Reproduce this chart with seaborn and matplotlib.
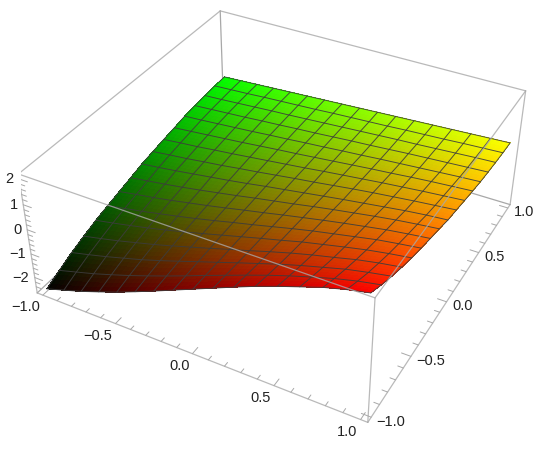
import numpy as np
import matplotlib
matplotlib.use('Agg')
import matplotlib.pyplot as plt
from mpl_toolkits.mplot3d import proj3d
import seaborn as sns

x_nodes = np.linspace(-1, 1, 17)
y_nodes = np.linspace(-1, 1, 17)

z_values = np.array([
    [-2.57,-2.33,-2.08,-1.80,-1.51,-1.19,-.86,-.52,-.18,.16,.50,.83,1.13,1.41,1.69,1.91,2.09],
    [-2.31,-2.09,-1.87,-1.62,-1.36,-1.08,-.79,-.49,-.18,.12,.42,.71,.98,1.23,1.47,1.67,1.83],
    [-2.06,-1.87,-1.67,-1.45,-1.23,-.98,-.72,-.45,-.19,.08,.34,.60,.84,1.06,1.28,1.45,1.60],
    [-1.86,-1.69,-1.51,-1.31,-1.11,-.89,-.66,-.43,-.19,.04,.28,.51,.72,.91,1.11,1.27,1.40],
    [-1.67,-1.52,-1.36,-1.19,-1.01,-.81,-.61,-.40,-.19,.02,.22,.43,.61,.79,.96,1.10,1.22],
    [-1.52,-1.38,-1.24,-1.08,-.92,-.75,-.57,-.38,-.20,-.01,.18,.36,.52,.68,.84,.96,1.07],
    [-1.38,-1.25,-1.13,-.99,-.84,-.69,-.53,-.36,-.20,-.03,.13,.29,.44,.58,.72,.83,.93],
    [-1.24,-1.13,-1.02,-.90,-.77,-.63,-.49,-.34,-.20,-.06,.09,.23,.36,.49,.61,.71,.80],
    [-1.09,-1.00,-.90,-.79,-.68,-.57,-.45,-.32,-.20,-.08,.04,.16,.27,.38,.49,.58,.65],
    [-.99,-.90,-.82,-.72,-.63,-.52,-.42,-.31,-.20,-.10,.01,.12,.22,.31,.40,.48,.56],
    [-.89,-.81,-.74,-.65,-.57,-.48,-.39,-.30,-.21,-.11,-.02,.07,.16,.24,.32,.39,.46],
    [-.80,-.73,-.66,-.59,-.52,-.44,-.36,-.29,-.21,-.13,-.05,.03,.10,.18,.25,.31,.37],
    [-.70,-.65,-.59,-.53,-.47,-.40,-.34,-.27,-.21,-.14,-.08,-.01,.05,.11,.17,.23,.28],
    [-.64,-.59,-.54,-.49,-.43,-.38,-.32,-.27,-.21,-.15,-.10,-.04,.02,.07,.12,.17,.22],
    [-.59,-.55,-.50,-.45,-.40,-.36,-.31,-.26,-.21,-.16,-.11,-.06,-.02,.03,.08,.13,.17],
    [-.55,-.51,-.47,-.42,-.38,-.34,-.30,-.25,-.21,-.17,-.13,-.08,-.04,0,.05,.09,.13],
    [-.53,-.49,-.45,-.41,-.37,-.33,-.29,-.25,-.21,-.17,-.13,-.09,-.05,-.01,.03,.07,.11],
])

major_xy = [-1, -.5, 0, .5, 1]
major_z = [-2, -1, 0, 1, 2]
x_labels = ['\u22121.0', '\u22120.5', '0.0', '0.5', '1.0']
y_labels = ['\u22121.0', '\u22120.5', '0.0', '0.5', '1.0']
z_labels = ['\u22122', '\u22121', '0', '1', '2']

sns.set_theme(style='white')
plt.rcParams['font.family'] = ['Liberation Sans', 'DejaVu Sans']

W, H = 550, 449
fig = plt.figure(figsize=(W/100, H/100), dpi=100)
size = 514
cx, cy = 277.7, 197.5
ax = fig.add_axes([(cx-size/2)/W, 1-(cy+size/2)/H, size/W, size/H], projection='3d', computed_zorder=False)
xlo, xhi, ylo, yhi, zlo, zhi = -1.04, 1.04, -1.04, 1.04, -2.67, 2.19
ax.set_xlim(xlo, xhi); ax.set_ylim(ylo, yhi); ax.set_zlim(zlo, zhi)
ax.set_box_aspect((1, 1, .4))
ax.view_init(elev=36.23, azim=-61.56)
ax.set_proj_type('persp', focal_length=.4383)
ax.set_axis_off()

# finer cells only for the smooth colour ramp
n = 4
xf = np.linspace(-1, 1, 16*n+1)
yf = np.linspace(-1, 1, 16*n+1)
Zx = np.array([np.interp(xf, x_nodes, row) for row in z_values])
Zf = np.array([np.interp(yf, y_nodes, col) for col in Zx.T]).T
Xf, Yf = np.meshgrid(xf, yf)
Xc, Yc = np.meshgrid((xf[:-1]+xf[1:])/2, (yf[:-1]+yf[1:])/2)
cols = np.dstack([((Xc+1)/2)**.92, ((Yc+1)/2)**.88, np.zeros_like(Xc), np.ones_like(Xc)])
ax.plot_surface(Xf, Yf, Zf, rstride=1, cstride=1, facecolors=cols, shade=False,
                linewidth=0, antialiased=False, zorder=2)

mesh = dict(color='#3c3c3c', lw=.68, alpha=.9, zorder=3)
for i in range(17):
    ax.plot(x_nodes, np.full(17, y_nodes[i]), z_values[i], **mesh)
    ax.plot(np.full(17, x_nodes[i]), y_nodes, z_values[:, i], **mesh)

box = dict(color='#a8a8a8', lw=.9)
def edge(p, q, z, alpha=1):
    ax.plot([p[0], q[0]], [p[1], q[1]], [p[2], q[2]], zorder=z, alpha=alpha, **box)

# back edges go under the surface, the rest over it
for p, q in [((xlo,yhi,zlo),(xhi,yhi,zlo)), ((xlo,yhi,zlo),(xlo,ylo,zlo)), ((xlo,yhi,zlo),(xlo,yhi,zhi))]:
    edge(p, q, 1)
for p, q in [((xlo,ylo,zhi),(xhi,ylo,zhi)), ((xhi,ylo,zhi),(xhi,yhi,zhi)), ((xhi,ylo,zlo),(xhi,ylo,zhi)),
             ((xlo,ylo,zlo),(xlo,ylo,zhi)), ((xhi,yhi,zlo),(xhi,yhi,zhi)), ((xlo,yhi,zhi),(xhi,yhi,zhi)),
             ((xlo,yhi,zhi),(xlo,ylo,zhi)), ((xlo,ylo,zlo),(xhi,ylo,zlo)), ((xhi,ylo,zlo),(xhi,yhi,zlo))]:
    edge(p, q, 4, .8)

def ticks(vals, fn, major):
    for v in vals:
        L = .055 if any(abs(v-m) < 1e-6 for m in major) else .032
        p, q = fn(v, L)
        ax.plot([p[0], q[0]], [p[1], q[1]], [p[2], q[2]], color='#a8a8a8', lw=.7, zorder=1)

xy_minor = np.arange(-10, 11)/10
z_minor = np.arange(-12, 11)*.2
ticks(xy_minor, lambda v, L: ((v, ylo, zlo), (v, ylo+L, zlo)), major_xy)
ticks(xy_minor, lambda v, L: ((xhi, v, zlo), (xhi-L, v, zlo)), major_xy)
ticks(z_minor[(z_minor > zlo) & (z_minor < zhi)], lambda v, L: ((xlo, ylo, v), (xlo+L, ylo, v)), major_z)

M = ax.get_proj()
def label(x, y, z, s, dx, dy, ha):
    u, v, _ = proj3d.proj_transform(x, y, z, M)
    ax.annotate(s, (u, v), xytext=(dx*.72, -dy*.72), textcoords='offset points', ha=ha, va='center',
                fontsize=10.5, color='#222222', annotation_clip=False)

for v, s in zip(major_xy, x_labels):
    label(v, ylo, zlo, s, -3, 12, 'right')
for v, s in zip(major_xy, y_labels):
    label(xhi, v, zlo, s, 5.5, 4.5, 'left')
for v, s in zip(major_z, z_labels):
    label(xlo, ylo, v, s, -5.5, 0, 'right')

fig.savefig('out.png', dpi=100)
